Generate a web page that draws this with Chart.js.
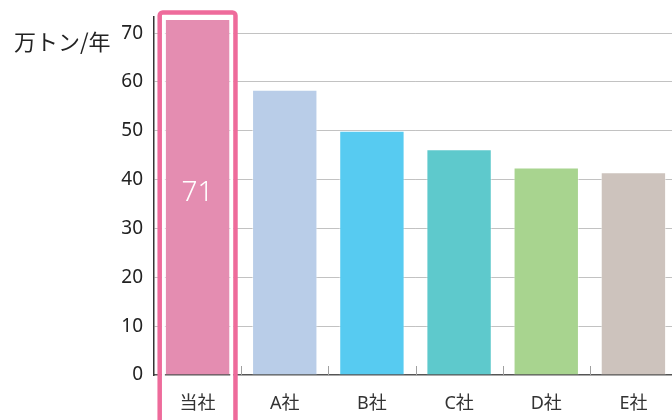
<!DOCTYPE html>
<html>
<head>
<meta charset="utf-8">
<script src="https://cdn.jsdelivr.net/npm/chart.js@4"></script>
<style>
  html, body { margin: 0; padding: 0; background: #fff; overflow: hidden; }
  #wrap { position: relative; width: 677px; height: 420px; }
</style>
</head>
<body>
<div id="wrap"><canvas id="shareChart"></canvas></div>
<script>
// 生産量の比較（万トン/年）
const categories = ['当社', 'A社', 'B社', 'C社', 'D社', 'E社'];
const values = [72.9, 58.4, 50.0, 46.2, 42.5, 41.5];
const valueLabels = ['71', '', '', '', '', ''];
const barColors = ['#e48db1', '#b9cde8', '#57cbf1', '#5ec9cc', '#a8d48f', '#cdc3bd'];
const yTicks = [0, 10, 20, 30, 40, 50, 60, 70];
const yTitle = '万トン/年';
const yMax = 73.3;

const fontLatin = "'Noto Sans', 'Noto Sans CJK JP', sans-serif";
const fontCJK = "'Noto Sans CJK JP', 'Noto Sans', sans-serif";

// 当社の強調枠、値ラベル、x軸の目盛り、軸タイトル
const overlay = {
    id: 'overlay',
    afterDraw(chart) {
        const ctx = chart.ctx;
        const area = chart.chartArea;
        const x = chart.scales.x;
        const bar = chart.getDatasetMeta(0).data[0];
        const left = bar.x - bar.width / 2;

        ctx.save();

        // x軸の小さい目盛り（カテゴリの境目、上向き）
        ctx.strokeStyle = '#a0a0a0';
        ctx.lineWidth = 1;
        for (let i = 0; i < categories.length; i++) {
            const px = Math.round(x.getPixelForValue(i + 0.5)) + 0.5;
            ctx.beginPath();
            ctx.moveTo(px, area.bottom - 9);
            ctx.lineTo(px, area.bottom);
            ctx.stroke();
        }

        // 白いすき間
        ctx.strokeStyle = '#ffffff';
        ctx.lineWidth = 3;
        ctx.strokeRect(left - 1.5, bar.y - 2.5, bar.width + 3, 430);

        // ピンクの枠
        ctx.strokeStyle = '#ee6b9b';
        ctx.lineWidth = 4.5;
        ctx.beginPath();
        if (ctx.roundRect) {
            ctx.roundRect(left - 5.2, bar.y - 6.5, bar.width + 10.4, 430, [3, 3, 0, 0]);
        } else {
            ctx.rect(left - 5.2, bar.y - 6.5, bar.width + 10.4, 430);
        }
        ctx.stroke();

        // 値ラベル
        ctx.fillStyle = '#ffffff';
        ctx.font = "300 28px " + fontLatin;
        ctx.textAlign = 'center';
        ctx.textBaseline = 'middle';
        chart.getDatasetMeta(0).data.forEach((el, i) => {
            if (!valueLabels[i]) return;
            ctx.fillText(valueLabels[i], el.x, el.y + (el.base - el.y) * 0.49);
        });

        // 単位
        ctx.fillStyle = '#222';
        ctx.font = "22px " + fontCJK;
        ctx.textAlign = 'left';
        ctx.fillText(yTitle, 14, 42);

        ctx.restore();
    }
};

document.addEventListener('DOMContentLoaded', function () {
    const ctx = document.getElementById('shareChart').getContext('2d');
    new Chart(ctx, {
        type: 'bar',
        data: {
            labels: categories,
            datasets: [{
                data: values,
                backgroundColor: barColors,
                borderColor: 'rgba(255,255,255,0.45)',
                borderWidth: 1,
                categoryPercentage: 1,
                barPercentage: 0.75
            }]
        },
        options: {
            responsive: true,
            maintainAspectRatio: false,
            animation: false,
            layout: { padding: { top: 17, left: 0, right: 0, bottom: 0 } },
            plugins: {
                legend: { display: false },
                tooltip: { enabled: false }
            },
            scales: {
                x: {
                    grid: { display: false, drawTicks: false },
                    border: { display: true, color: '#555', width: 1.5 },
                    ticks: {
                        color: '#333',
                        padding: 18,
                        font: { family: fontLatin, size: 18 }
                    },
                    afterFit(scale) { scale.height = 45; }
                },
                y: {
                    min: 0,
                    max: yMax,
                    z: 1,
                    grid: {
                        drawTicks: false,
                        color: (c) => c.tick && c.tick.value === 0 ? 'rgba(0,0,0,0)' : 'rgba(0,0,0,0.24)',
                        lineWidth: 1
                    },
                    border: { display: true, color: '#333', width: 1.5 },
                    ticks: {
                        color: '#222',
                        padding: 11,
                        font: { family: fontLatin, size: 19 }
                    },
                    afterBuildTicks(scale) {
                        scale.ticks = yTicks.map(v => ({ value: v }));
                    },
                    afterFit(scale) {
                        scale.width = 154;
                        scale.paddingTop = 0;
                        scale.paddingBottom = 0;
                    }
                }
            }
        },
        plugins: [overlay]
    });
});
</script>
</body>
</html>
